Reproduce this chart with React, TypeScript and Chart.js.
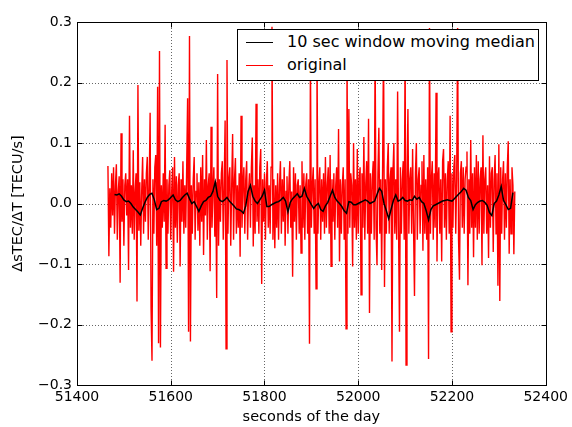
import React, { useEffect, useRef } from 'react';
import { Chart, registerables } from 'chart.js';

Chart.register(...registerables);

// ---- data ----
const RED_START = 51466; // seconds of the day of first "original" sample
const RED_STEP = 2; // seconds between samples (as read)
const redValues = [
  0.062, -0.087, 0.025, -0.04, 0.05, -0.02, 0.06, -0.05, 0.03, 0.065, -0.06, 0.02, 0.045, -0.131, 0.116, -0.03, 0.04, -0.07, 0.03, 0.05,
  -0.02, 0.04, -0.11, 0.145, -0.04, 0.03, -0.05, 0.088, -0.06, 0.02, 0.05, -0.162, 0.196, -0.045, 0.035, -0.07, 0.02, 0.077, -0.05, 0.04,
  -0.03, 0.05, 0.077, -0.06, 0.03, 0.15, -0.173, -0.26, 0.04, -0.05, 0.06, 0.08, -0.07, 0.193, -0.231, 0.252, -0.238, 0.03, -0.04, 0.05,
  -0.03, 0.13, -0.107, 0.04, -0.05, 0.03, 0.055, -0.06, 0.02, 0.06, -0.113, 0.077, -0.04, 0.045, -0.065, 0.03, 0.05, -0.104, 0.04, -0.03,
  0.07, -0.05, 0.03, -0.04, 0.06, 0.174, -0.212, 0.277, -0.228, 0.03, -0.05, 0.04, 0.077, -0.06, 0.02, 0.05, -0.045, 0.035, -0.07, 0.06,
  -0.03, 0.08, -0.085, 0.04, -0.02, 0.105, -0.06, 0.03, 0.05, -0.112, 0.127, -0.04, 0.02, 0.06, -0.055, 0.035, -0.156, 0.214, -0.07, 0.04,
  -0.03, 0.05, 0.07, -0.06, 0.03, 0.137, -0.24, 0.237, -0.05, 0.04, 0.06, -0.07, 0.03, 0.115, -0.06, 0.04, 0.075, -0.05, 0.03, -0.04,
  0.05, -0.088, 0.145, -0.04, 0.03, 0.06, -0.05, 0.04, 0.07, -0.06, 0.02, 0.05, -0.04, 0.06, 0.109, -0.071, 0.03, -0.05, 0.165, -0.03,
  0.04, -0.05, 0.06, 0.09, -0.133, 0.04, -0.03, 0.05, -0.06, 0.035, 0.07, -0.04, 0.03, -0.05, 0.06, 0.292, -0.06, 0.04, -0.074, 0.03,
  -0.04, 0.05, -0.06, 0.03, 0.07, -0.05, 0.04, -0.03, 0.06, -0.07, 0.02, 0.045, -0.05, 0.03, 0.07, -0.04, 0.02, -0.121, 0.06, -0.03,
  0.05, -0.06, 0.03, 0.04, -0.05, 0.03, -0.082, 0.07, -0.04, 0.05, -0.06, 0.03, 0.05, -0.05, 0.04, -0.232, 0.24, -0.04, 0.03, 0.06,
  -0.05, 0.04, -0.141, 0.26, -0.05, 0.03, 0.06, -0.06, 0.04, -0.03, 0.05, -0.05, 0.077, -0.04, 0.03, 0.06, -0.05, 0.08, -0.104, 0.04,
  -0.03, 0.05, -0.06, 0.03, 0.06, -0.04, 0.123, -0.096, 0.04, -0.05, 0.03, 0.06, -0.06, 0.04, -0.207, 0.25, -0.05, 0.156, -0.04, 0.05,
  0.03, -0.104, 0.1, -0.04, 0.04, -0.06, 0.09, -0.05, 0.04, 0.06, -0.151, 0.05, -0.04, 0.11, -0.06, 0.03, 0.07, -0.05, 0.14, -0.181,
  0.05, -0.05, 0.04, 0.07, -0.06, 0.25, -0.04, -0.102, 0.05, 0.125, -0.05, 0.04, -0.11, 0.06, 0.27, -0.138, 0.04, -0.05, 0.06, 0.1,
  -0.05, 0.04, 0.06, -0.261, 0.05, 0.1, -0.05, 0.04, -0.06, 0.185, -0.04, -0.212, 0.06, -0.05, 0.04, 0.07, -0.06, 0.26, -0.267, 0.04,
  0.156, -0.05, 0.04, 0.06, -0.05, 0.09, -0.04, -0.153, 0.05, 0.1, -0.06, 0.04, 0.06, -0.05, 0.03, 0.07, -0.078, 0.08, -0.05, 0.04,
  -0.06, 0.06, -0.257, 0.29, -0.05, 0.04, 0.07, -0.06, 0.05, -0.04, 0.183, -0.096, 0.04, 0.06, -0.05, 0.04, -0.096, 0.07, 0.09, -0.04,
  0.05, -0.06, 0.04, 0.07, -0.05, 0.145, -0.212, 0.05, -0.04, 0.06, 0.08, -0.05, 0.04, 0.29, -0.06, -0.126, 0.05, 0.07, -0.04, 0.06,
  -0.05, 0.04, 0.06, 0.086, -0.135, 0.04, -0.05, 0.105, -0.04, 0.05, -0.089, 0.06, -0.04, 0.08, -0.06, 0.07, -0.05, 0.04, 0.06, -0.102,
  0.113, -0.05, 0.04, 0.06, -0.05, 0.03, -0.09, 0.078, -0.04, 0.05, 0.06, -0.08, 0.04, 0.08, -0.05, 0.05, -0.136, 0.098, -0.161, 0.06,
  -0.05, 0.04, 0.07, -0.06, 0.05, -0.04, 0.06, 0.103, -0.083, 0.04, -0.05, 0.06, 0.03, -0.084, 0.02,
];

const MED_START = 51480; // first moving-median sample
const MED_STEP = 5;
const medianValues = [
  0.015, 0.014, 0.016, 0.012, 0.006, 0.003, 0.004, 0.0, -0.006, -0.01,
  -0.014, -0.019, -0.008, 0.002, 0.01, 0.015, 0.017, 0.006, -0.01, -0.008,
  0.003, 0.005, 0.004, 0.006, 0.01, 0.014, 0.006, 0.003, 0.005, 0.01,
  0.014, 0.017, 0.008, 0.0, 0.003, -0.005, -0.013, -0.004, 0.003, 0.005,
  0.01, 0.012, 0.02, 0.036, 0.012, 0.005, 0.003, 0.006, 0.01, 0.004,
  0.0, -0.004, -0.009, -0.01, -0.012, -0.016, -0.004, 0.02, 0.03, 0.012,
  0.004, 0.0, 0.006, 0.012, 0.022, -0.005, -0.005, -0.002, 0.0, 0.002,
  0.003, 0.006, 0.01, 0.004, -0.014, 0.002, 0.008, 0.012, 0.016, 0.01,
  0.012, 0.025, 0.012, 0.005, -0.002, -0.008, -0.003, 0.0, -0.01, -0.013,
  -0.004, 0.002, 0.012, 0.022, 0.01, 0.004, 0.0, -0.005, -0.012, -0.016,
  0.003, 0.002, -0.002, -0.002, 0.0, 0.002, 0.004, 0.006, 0.004, 0.0,
  0.002, 0.004, 0.015, 0.025, 0.02, 0.0, -0.012, -0.025, -0.01, 0.005,
  0.014, 0.004, 0.006, 0.01, 0.005, 0.004, 0.006, 0.005, 0.012, 0.007,
  0.01, 0.003, 0.0, -0.012, -0.027, -0.01, -0.004, -0.002, 0.0, 0.002,
  0.004, 0.005, 0.006, 0.005, 0.004, 0.008, 0.012, 0.016, 0.02, 0.025,
  0.022, 0.01, 0.005, -0.01, -0.002, 0.002, 0.004, 0.005, 0.002, -0.003,
  -0.015, -0.02, 0.0, 0.004, 0.014, 0.028, 0.005, -0.002, -0.01, -0.008,
  0.018,
];

const seriesLabels = ['10 sec window moving median', 'original'];
const seriesColors = ['#000000', '#ff0000'];
const X_MIN = 51400;
const X_MAX = 52400;
const X_STEP = 200;
const Y_MIN = -0.3;
const Y_MAX = 0.3;
const Y_STEP = 0.1;
const X_TITLE = 'seconds of the day';
const Y_TITLE = '\u0394sTEC/\u0394T [TECU/s]';

const FONT = "'DejaVu Sans', sans-serif";

const framePlugin = {
  id: 'mplFrame',
  beforeDatasetsDraw(chart: any) {
    const { ctx, chartArea: a, scales } = chart;
    const xs = scales.x;
    const ys = scales.y;
    ctx.save();
    ctx.strokeStyle = 'rgba(0,0,0,0.6)';
    ctx.lineWidth = 1;
    ctx.setLineDash([1, 2]);
    xs.ticks.forEach((t: any) => {
      const px = Math.round(xs.getPixelForValue(t.value)) + 0.5;
      ctx.beginPath();
      ctx.moveTo(px, a.top);
      ctx.lineTo(px, a.bottom);
      ctx.stroke();
    });
    ys.ticks.forEach((t: any) => {
      const py = Math.round(ys.getPixelForValue(t.value)) + 0.5;
      ctx.beginPath();
      ctx.moveTo(a.left, py);
      ctx.lineTo(a.right, py);
      ctx.stroke();
    });
    ctx.restore();
  },
  afterDraw(chart: any) {
    const { ctx, chartArea: a, scales } = chart;
    const xs = scales.x;
    const ys = scales.y;
    const L = 5;
    ctx.save();
    ctx.strokeStyle = '#000';
    ctx.lineWidth = 1;
    ctx.setLineDash([]);
    const l = Math.round(a.left) + 0.5;
    const r = Math.round(a.right) + 0.5;
    const t0 = Math.round(a.top) + 0.5;
    const b = Math.round(a.bottom) + 0.5;
    ctx.strokeRect(l, t0, r - l, b - t0);
    ctx.beginPath();
    xs.ticks.forEach((t: any) => {
      const px = Math.round(xs.getPixelForValue(t.value)) + 0.5;
      ctx.moveTo(px, b);
      ctx.lineTo(px, b - L);
      ctx.moveTo(px, t0);
      ctx.lineTo(px, t0 + L);
    });
    ys.ticks.forEach((t: any) => {
      const py = Math.round(ys.getPixelForValue(t.value)) + 0.5;
      ctx.moveTo(l, py);
      ctx.lineTo(l + L, py);
      ctx.moveTo(r, py);
      ctx.lineTo(r - L, py);
    });
    ctx.stroke();
    ctx.restore();
  },
};

function fmtY(v: number) {
  const r = Math.round(v * 10) / 10;
  if (r === 0) return '0.0';
  return (r < 0 ? '\u2212' : '') + Math.abs(r).toFixed(1);
}

export default function App() {
  const canvasRef = useRef<HTMLCanvasElement | null>(null);

  useEffect(() => {
    if (!canvasRef.current) return;
    const redData = redValues.map((v, i) => ({ x: RED_START + i * RED_STEP, y: v }));
    const medData = medianValues.map((v, i) => ({ x: MED_START + i * MED_STEP, y: v }));
    const chart = new Chart(canvasRef.current, {
      type: 'line',
      data: {
        datasets: [
          {
            label: seriesLabels[0],
            data: medData,
            borderColor: seriesColors[0],
            borderWidth: 1.5,
            pointRadius: 0,
            tension: 0,
            fill: false,
          },
          {
            label: seriesLabels[1],
            data: redData,
            borderColor: seriesColors[1],
            borderWidth: 1.4,
            pointRadius: 0,
            tension: 0,
            fill: false,
          },
        ],
      },
      options: {
        animation: false,
        responsive: false,
        maintainAspectRatio: false,
        events: [],
        layout: { padding: { left: 0, right: 25, top: 22, bottom: 0 } },
        plugins: {
          legend: { display: false },
          tooltip: { enabled: false },
        },
        scales: {
          x: {
            type: 'linear',
            min: X_MIN,
            max: X_MAX,
            grid: { display: false, drawTicks: false },
            border: { display: false },
            ticks: {
              stepSize: X_STEP,
              padding: 4,
              color: '#000',
              font: { family: FONT, size: 14 },
              maxRotation: 0,
              callback: (v: any) => String(v),
            },
            title: {
              display: true,
              text: X_TITLE,
              color: '#000',
              font: { family: FONT, size: 14.5 },
              padding: { top: 0, bottom: 1 },
            },
            afterFit: (s: any) => {
              s.height = 42;
            },
          },
          y: {
            type: 'linear',
            min: Y_MIN,
            max: Y_MAX,
            grid: { display: false, drawTicks: false },
            border: { display: false },
            ticks: {
              stepSize: Y_STEP,
              padding: 5,
              color: '#000',
              font: { family: FONT, size: 14 },
              callback: (v: any) => fmtY(Number(v)),
            },
            title: {
              display: true,
              text: Y_TITLE,
              color: '#000',
              font: { family: FONT, size: 14.5 },
              padding: { top: 10, bottom: 0 },
            },
            afterFit: (s: any) => {
              s.width = 77;
            },
          },
        },
      },
      plugins: [framePlugin],
    } as any);
    return () => chart.destroy();
  }, []);

  const legendRow = (i: number, top: number) => (
    <div key={i} style={{ position: 'absolute', left: 0, top, height: 20, width: '100%' }}>
      <div
        style={{
          position: 'absolute',
          left: 8,
          top: 10,
          width: 27,
          height: 1,
          background: seriesColors[i],
        }}
      />
      <span
        style={{
          position: 'absolute',
          left: 49,
          top: 0,
          lineHeight: '20px',
          fontSize: 16,
          fontFamily: FONT,
          color: '#000',
          whiteSpace: 'nowrap',
        }}
      >
        {seriesLabels[i]}
      </span>
    </div>
  );

  return (
    <div style={{ position: 'fixed', left: 0, top: 0, width: 572, height: 427, background: '#fff' }}>
      <canvas ref={canvasRef} width={572} height={427} style={{ width: 572, height: 427, display: 'block' }} />
      <div
        style={{
          position: 'absolute',
          left: 237,
          top: 29,
          width: 302,
          height: 52,
          boxSizing: 'border-box',
          border: '1px solid #000',
          background: '#fff',
        }}
      >
        {legendRow(0, 2)}
        {legendRow(1, 25)}
      </div>
    </div>
  );
}
